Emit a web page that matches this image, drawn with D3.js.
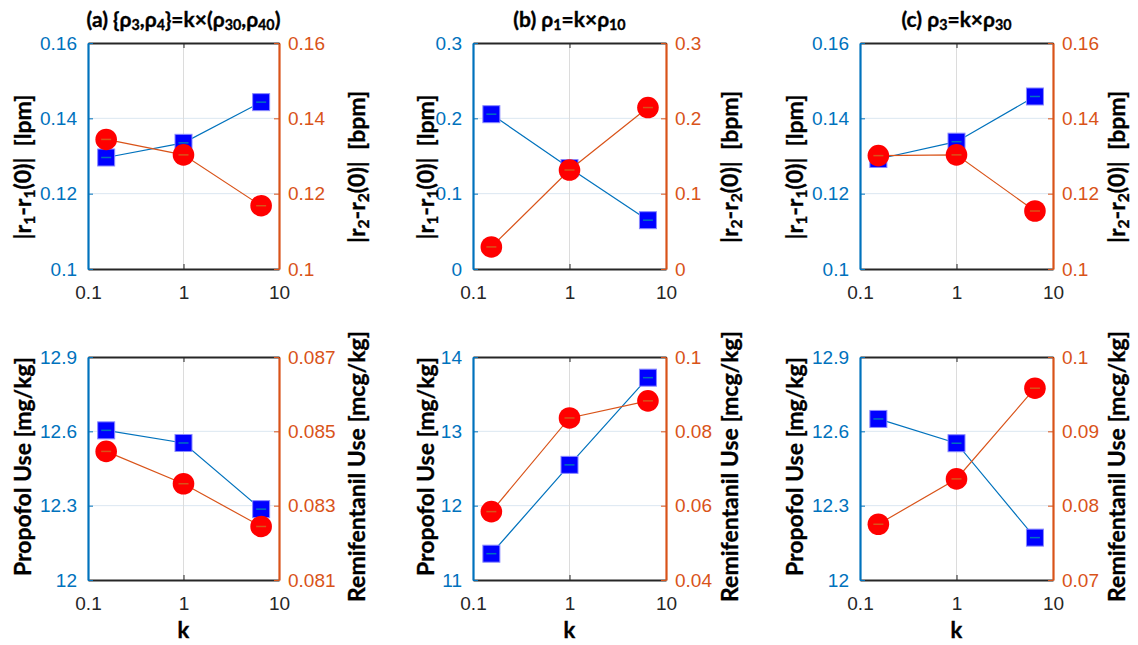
<!DOCTYPE html>
<html>
<head>
<meta charset="utf-8">
<script src="https://cdn.jsdelivr.net/npm/d3@7"></script>
<style>
  html, body { margin: 0; padding: 0; background: #fff; }
  svg { display: block; }
</style>
</head>
<body>
<svg id="chart" width="1138" height="645"></svg>
<script>
// Scaling factor k applied to each parameter set
const kValues = [0.155, 1, 6.5];
const xTicks = [0.1, 1, 10];

// Top row: deviation of r1 (left axis, lpm) and r2 (right axis, bpm)
const lpmA = [0.1296, 0.1335, 0.1443];
const bpmA = [0.1344, 0.1303, 0.1168];
const lpmB = [0.2055, 0.134, 0.0648];
const bpmB = [0.0293, 0.1314, 0.2143];
const lpmC = [0.1292, 0.1338, 0.1458];
const bpmC = [0.1301, 0.1303, 0.1154];

// Bottom row: drug use, propofol (left axis) and remifentanil (right axis)
const propofolA = [12.604, 12.553, 12.286];
const remiA = [0.08446, 0.08359, 0.08244];
const propofolB = [11.354, 12.549, 13.722];
const remiB = [0.0584, 0.0836, 0.0882];
const propofolC = [12.650, 12.552, 12.171];
const remiC = [0.0775, 0.0836, 0.0958];

// Tick values for every y axis
const ticksDevAC = [0.1, 0.12, 0.14, 0.16];
const ticksDevB = [0, 0.1, 0.2, 0.3];
const ticksPropAC = [12, 12.3, 12.6, 12.9];
const ticksPropB = [11, 12, 13, 14];
const ticksRemiA = [0.081, 0.083, 0.085, 0.087];
const ticksRemiB = [0.04, 0.06, 0.08, 0.1];
const ticksRemiC = [0.07, 0.08, 0.09, 0.1];

// Titles as [text, subscript?] pieces
const titleA = [["(a) {ρ", 0], ["3", 1], [",ρ", 0], ["4", 1], ["}=k×(ρ", 0], ["30", 1], [",ρ", 0], ["40", 1], [")", 0]];
const titleB = [["(b) ρ", 0], ["1", 1], ["=k×ρ", 0], ["10", 1]];
const titleC = [["(c) ρ", 0], ["3", 1], ["=k×ρ", 0], ["30", 1]];

const labelR1 = [["|r", 0], ["1", 1], ["-r", 0], ["1", 1], ["(0)|\u00a0 [lpm]", 0]];
const labelR2 = [["|r", 0], ["2", 1], ["-r", 0], ["2", 1], ["(0)|\u00a0 [bpm]", 0]];
const labelProp = [["Propofol Use [mg/kg]", 0]];
const labelRemi = [["Remifentanil Use [mcg/kg]", 0]];
const labelK = "k";

const BLUE_AXIS = "#0072BD";
const ORANGE_AXIS = "#D95319";
const DARK = "#262626";
const TICK_FONT = "'Liberation Sans', Arial, sans-serif";
const LABEL_FONT = "Lato, 'Open Sans', sans-serif";
const LABEL_SIZE = 23;

const columns = [
  { x0: 88, x1: 279, leftOff: 65, rightOff: 78 },
  { x0: 473, x1: 666, leftOff: 47, rightOff: 64 },
  { x0: 860, x1: 1053, leftOff: 65, rightOff: 64 }
];
const rows = [
  { y0: 43, y1: 269, labelShift: 11 },
  { y0: 357, y1: 580, labelShift: -2 }
];

const panels = [
  { col: 0, row: 0, left: lpmA, right: bpmA, lt: ticksDevAC, rt: ticksDevAC, ll: labelR1, rl: labelR2, title: titleA },
  { col: 1, row: 0, left: lpmB, right: bpmB, lt: ticksDevB, rt: ticksDevB, ll: labelR1, rl: labelR2, title: titleB },
  { col: 2, row: 0, left: lpmC, right: bpmC, lt: ticksDevAC, rt: ticksDevAC, ll: labelR1, rl: labelR2, title: titleC },
  { col: 0, row: 1, left: propofolA, right: remiA, lt: ticksPropAC, rt: ticksRemiA, ll: labelProp, rl: labelRemi },
  { col: 1, row: 1, left: propofolB, right: remiB, lt: ticksPropB, rt: ticksRemiB, ll: labelProp, rl: labelRemi },
  { col: 2, row: 1, left: propofolC, right: remiC, lt: ticksPropAC, rt: ticksRemiC, ll: labelProp, rl: labelRemi }
];

const svg = d3.select("#chart");
const fmt = d => String(+d.toFixed(6));

function richText(sel, pieces, size) {
  pieces.forEach(([t, sub]) => {
    const ts = sel.append("tspan").text(t);
    if (sub) ts.attr("font-size", size * 0.68).attr("baseline-shift", "-22%");
  });
}

function boldLabel(sel, size) {
  return sel.attr("font-family", LABEL_FONT).attr("font-weight", 700)
    .attr("font-size", size).attr("fill", "#000")
    .attr("stroke", "#000").attr("stroke-width", 0.35);
}

panels.forEach(p => {
  const c = columns[p.col], r = rows[p.row];
  const g = svg.append("g");
  const x = d3.scaleLog().domain([xTicks[0], xTicks[xTicks.length - 1]]).range([c.x0, c.x1]);
  const yL = d3.scaleLinear().domain([p.lt[0], p.lt[p.lt.length - 1]]).range([r.y1, r.y0]);
  const yR = d3.scaleLinear().domain([p.rt[0], p.rt[p.rt.length - 1]]).range([r.y1, r.y0]);

  // grid
  g.append("g").selectAll("line").data(p.lt.slice(1, -1)).join("line")
    .attr("x1", c.x0).attr("x2", c.x1)
    .attr("y1", d => yL(d)).attr("y2", d => yL(d))
    .attr("stroke", "#dbe7f1").attr("stroke-width", 1);
  g.append("g").selectAll("line").data(xTicks.slice(1, -1)).join("line")
    .attr("x1", d => x(d)).attr("x2", d => x(d))
    .attr("y1", r.y0).attr("y2", r.y1)
    .attr("stroke", "#dcdcdc").attr("stroke-width", 1);

  // axes
  const axB = g.append("g").attr("transform", `translate(0,${r.y1})`)
    .call(d3.axisBottom(x).tickValues(xTicks).tickFormat(fmt).tickSizeInner(-5).tickSizeOuter(0).tickPadding(16.5));
  const axT = g.append("g").attr("transform", `translate(0,${r.y0})`)
    .call(d3.axisTop(x).tickValues(xTicks).tickFormat("").tickSizeInner(-5).tickSizeOuter(0));
  [axB, axT].forEach(a => {
    a.select(".domain").attr("stroke", DARK).attr("stroke-width", 2);
    a.selectAll(".tick line").attr("stroke", DARK);
    a.selectAll("text").attr("fill", DARK).attr("font-size", 19).attr("font-family", TICK_FONT);
  });
  const axL = g.append("g").attr("transform", `translate(${c.x0},0)`)
    .call(d3.axisLeft(yL).tickValues(p.lt).tickFormat(fmt).tickSizeInner(-5).tickSizeOuter(0).tickPadding(11));
  const axR = g.append("g").attr("transform", `translate(${c.x1},0)`)
    .call(d3.axisRight(yR).tickValues(p.rt).tickFormat(fmt).tickSizeInner(-5).tickSizeOuter(0).tickPadding(9));
  [[axL, BLUE_AXIS], [axR, ORANGE_AXIS]].forEach(([a, col]) => {
    a.select(".domain").attr("stroke", col).attr("stroke-width", 2.2);
    a.selectAll(".tick line").attr("stroke", col);
    a.selectAll("text").attr("fill", col).attr("font-size", 19).attr("font-family", TICK_FONT);
  });

  // series: left (blue squares) then right (red circles)
  const series = [
    { vals: p.left, y: yL, line: BLUE_AXIS, shape: "square" },
    { vals: p.right, y: yR, line: ORANGE_AXIS, shape: "circle" }
  ];
  series.forEach(s => {
    const pts = s.vals.map((v, i) => [x(kValues[i]), s.y(v)]);
    g.append("path").attr("d", d3.line()(pts))
      .attr("fill", "none").attr("stroke", s.line).attr("stroke-width", 1.2);
    const m = g.append("g").selectAll("g").data(pts).join("g")
      .attr("transform", d => `translate(${d[0]},${d[1]})`);
    if (s.shape === "square") {
      m.append("rect").attr("x", -8.5).attr("y", -8.5).attr("width", 17).attr("height", 17)
        .attr("fill", "#0000ff").attr("stroke", "#8a8aff").attr("stroke-width", 1);
    } else {
      m.append("circle").attr("r", 10.8).attr("fill", "#ff0000");
    }
    m.append("line").attr("x1", -5).attr("x2", 5).attr("y1", 0).attr("y2", 0)
      .attr("stroke", s.line).attr("stroke-width", 1.5);
  });

  // axis labels
  const cy = (r.y0 + r.y1) / 2 + r.labelShift;
  const lt = boldLabel(g.append("text"), LABEL_SIZE)
    .attr("transform", `translate(${c.x0 - c.leftOff},${cy}) rotate(-90)`)
    .attr("text-anchor", "middle").attr("dy", "0.35em");
  richText(lt, p.ll, LABEL_SIZE);
  const rt = boldLabel(g.append("text"), LABEL_SIZE)
    .attr("transform", `translate(${c.x1 + c.rightOff},${cy}) rotate(-90)`)
    .attr("text-anchor", "middle").attr("dy", "0.35em");
  richText(rt, p.rl, LABEL_SIZE);

  if (p.title) {
    const tt = boldLabel(g.append("text"), 21)
      .attr("x", (c.x0 + c.x1) / 2).attr("y", 27)
      .attr("text-anchor", "middle");
    richText(tt, p.title, 21);
  }
  if (p.row === 1) {
    boldLabel(g.append("text"), 22)
      .attr("x", (c.x0 + c.x1) / 2).attr("y", 638)
      .attr("text-anchor", "middle")
      .text(labelK);
  }
});
</script>
</body>
</html>
